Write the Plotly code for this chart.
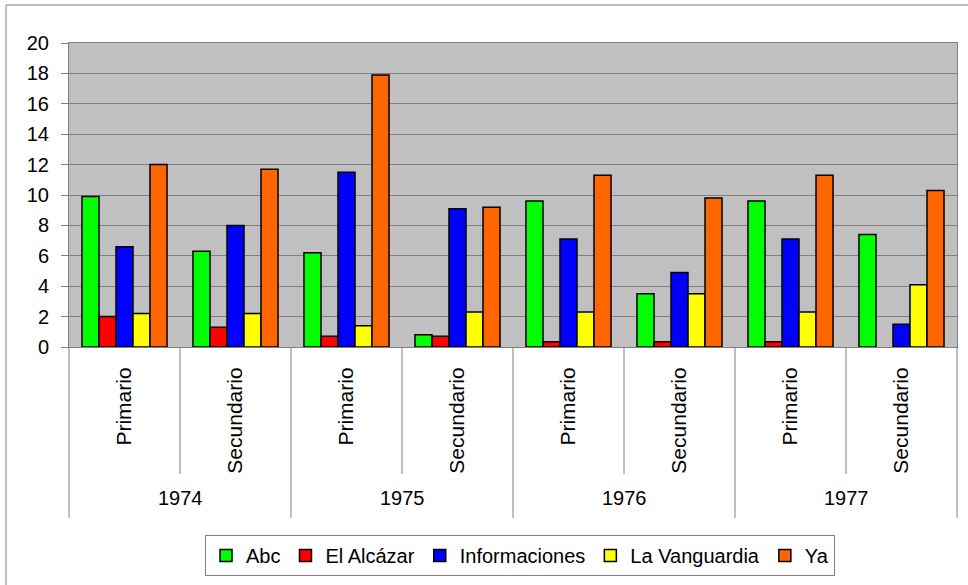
import plotly.graph_objects as go

years = ["1974", "1975", "1976", "1977"]
subcats = ["Primario", "Secundario"]
series_names = ["Abc", "El Alcázar", "Informaciones", "La Vanguardia", "Ya"]
series_colors = ["#00FF00", "#FF0000", "#0000FF", "#FFFF00", "#FF6600"]

abc = [9.9, 6.3, 6.2, 0.8, 9.6, 3.5, 9.6, 7.4]
el_alcazar = [2.0, 1.3, 0.7, 0.7, 0.35, 0.35, 0.35, None]
informaciones = [6.6, 8.0, 11.5, 9.1, 7.1, 4.9, 7.1, 1.5]
la_vanguardia = [2.2, 2.2, 1.4, 2.3, 2.3, 3.5, 2.3, 4.1]
ya = [12.0, 11.7, 17.9, 9.2, 11.3, 9.8, 11.3, 10.3]

series_values = [abc, el_alcazar, informaciones, la_vanguardia, ya]

x_pos = list(range(len(years) * len(subcats)))
x_labels = [s for _ in years for s in subcats]

FONT = "Liberation Sans, Arial, sans-serif"
FS = 20

fig = go.Figure()
for name, color, vals in zip(series_names, series_colors, series_values):
    fig.add_trace(go.Bar(
        x=x_pos, y=vals, name=name,
        marker=dict(color=color, line=dict(color="black", width=1.5)),
    ))

W, H = 968, 585
L, R, T, B = 69, 11, 43, 238
plot_h = H - T - B


def py(pix):
    # pixel y (from top) -> paper y
    return (H - B - pix) / plot_h


def px(pix):
    return (pix - L) / (W - L - R)


shapes = []
# inner dividers (between subcategories)
for i in range(len(years)):
    xb = i * len(subcats) + 0.5
    shapes.append(dict(type="line", xref="x", yref="paper", x0=xb, x1=xb,
                       y0=0, y1=py(474), line=dict(color="#808080", width=1)))
# outer dividers (between years)
for i in range(1, len(years)):
    xb = i * len(subcats) - 0.5
    shapes.append(dict(type="line", xref="x", yref="paper", x0=xb, x1=xb,
                       y0=0, y1=py(518), line=dict(color="#808080", width=1)))
for xd in (0, 1):
    shapes.append(dict(type="line", xref="x domain", yref="paper", x0=xd, x1=xd,
                       y0=0, y1=py(518), line=dict(color="#808080", width=1)))
# outer chart border
shapes.append(dict(type="rect", xref="paper", yref="paper",
                   x0=px(6), x1=px(990), y0=py(600), y1=py(5),
                   line=dict(color="#808080", width=1), fillcolor="rgba(0,0,0,0)"))

annotations = []
for i, yr in enumerate(years):
    annotations.append(dict(text=yr, xref="x", yref="paper",
                            x=i * len(subcats) + 0.5, y=py(498),
                            xanchor="center", yanchor="middle", showarrow=False,
                            font=dict(family=FONT, size=FS, color="black")))

fig.update_layout(
    width=W, height=H,
    margin=dict(l=L, r=R, t=T, b=B, pad=0),
    paper_bgcolor="white",
    plot_bgcolor="#C0C0C0",
    barmode="group",
    bargap=0.234,
    bargroupgap=0,
    font=dict(family=FONT, size=FS, color="black"),
    shapes=shapes,
    annotations=annotations,
    legend=dict(
        orientation="h", xref="container", yref="container",
        x=520 / W, y=(H - 535) / H, xanchor="center", yanchor="top",
        bordercolor="#808080", borderwidth=1, bgcolor="white",
        font=dict(family=FONT, size=FS, color="black"),
        itemwidth=30, tracegroupgap=0,
    ),
    showlegend=True,
)

fig.update_xaxes(
    range=[-0.5, len(x_pos) - 0.5],
    tickmode="array", tickvals=x_pos, ticktext=x_labels,
    tickangle=-90, ticks="", ticklabelstandoff=11,
    showgrid=False, zeroline=False, automargin=False,
    showline=True, linecolor="#808080", linewidth=1, mirror=True,
    tickfont=dict(family=FONT, size=21, color="black"),
)
fig.update_yaxes(
    range=[0, 20], dtick=2, tick0=0,
    ticks="outside", ticklen=7, tickcolor="#808080", tickwidth=1,
    showgrid=True, gridcolor="#808080", gridwidth=1,
    zeroline=False, automargin=False,
    showline=True, linecolor="#808080", linewidth=1, mirror=True,
    tickfont=dict(family=FONT, size=FS, color="black"),
    ticklabelstandoff=8,
)

fig.write_html("out.html",
               config={"displayModeBar": False},
               post_script="document.body.style.margin='0';document.body.style.overflow='hidden';")
